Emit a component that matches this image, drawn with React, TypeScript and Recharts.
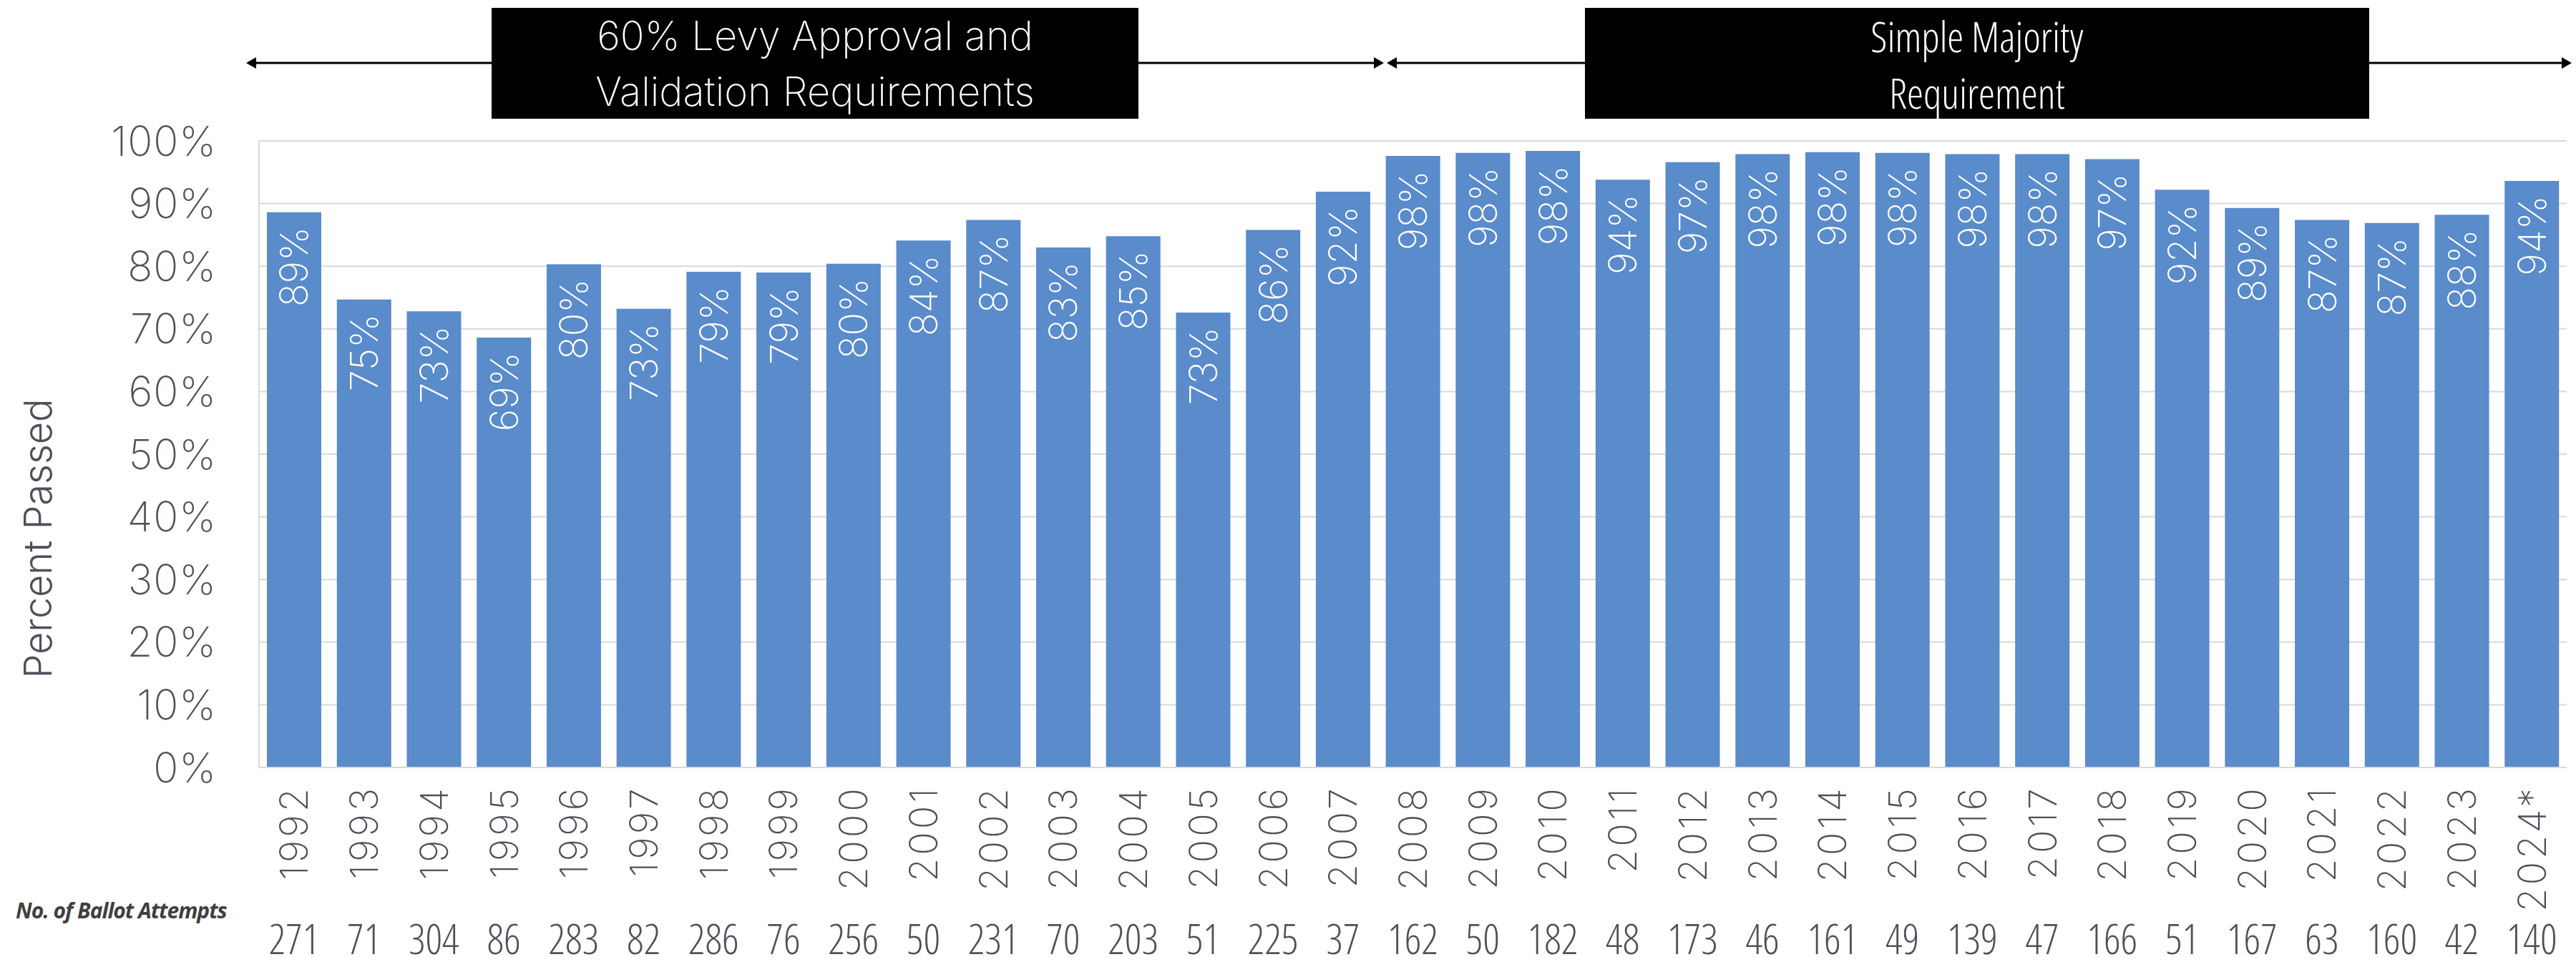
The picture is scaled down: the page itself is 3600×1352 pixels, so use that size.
import * as React from "react"
import { BarChart, Bar, XAxis, YAxis, CartesianGrid, LabelList } from "recharts"

// Levy ballot pass rate by year (percent) and attempts per year
const years = [
  "1992", "1993", "1994", "1995", "1996", "1997", "1998", "1999", "2000", "2001", "2002",
  "2003", "2004", "2005", "2006", "2007", "2008", "2009", "2010", "2011", "2012", "2013",
  "2014", "2015", "2016", "2017", "2018", "2019", "2020", "2021", "2022", "2023", "2024*",
]
const passRates = [
  88.6, 74.7, 72.8, 68.6, 80.3, 73.2, 79.1, 79.0, 80.4, 84.1, 87.4,
  83.0, 84.8, 72.6, 85.8, 91.9, 97.6, 98.1, 98.4, 93.8, 96.6, 97.9,
  98.2, 98.1, 97.9, 97.9, 97.1, 92.2, 89.3, 87.4, 86.9, 88.2, 93.6,
]
const ballotAttempts = [
  271, 71, 304, 86, 283, 82, 286, 76, 256, 50, 231,
  70, 203, 51, 225, 37, 162, 50, 182, 48, 173, 46,
  161, 49, 139, 47, 166, 51, 167, 63, 160, 42, 140,
]
const yTicks = [0, 10, 20, 30, 40, 50, 60, 70, 80, 90, 100]

const BAR = "#5A8BCA"
const GRID = "#D9D9D9"
const INK = "#4D5159"
const THIN = "Inter, 'Open Sans', sans-serif"
const COND = "'Open Sans', sans-serif"

function YearTick(props: any) {
  const { x, y, payload } = props
  const i = years.indexOf(payload.value)
  return (
    <g>
      <text
        x={x}
        y={y + 25}
        transform={`rotate(-90, ${x}, ${y + 25})`}
        textAnchor="end"
        dominantBaseline="central"
        fill={INK}
        fontFamily={THIN}
        fontWeight={200}
        fontSize={54}
        letterSpacing={4}
      >
        {payload.value}
      </text>
      <text
        x={x}
        y={y + 261}
        textAnchor="middle"
        fill={INK}
        fontFamily={COND}
        fontWeight={300}
        fontSize={58}
        style={{ fontStretch: "75%" }}
      >
        {ballotAttempts[i]}
      </text>
    </g>
  )
}

function BarValue(props: any) {
  const { x, y, width, value } = props
  const cx = x + width / 2
  const ty = y + 20
  return (
    <text
      x={cx}
      y={ty}
      transform={`rotate(-90, ${cx}, ${ty})`}
      textAnchor="end"
      dominantBaseline="central"
      fill="#ffffff"
      fontFamily={THIN}
      fontWeight={200}
      fontSize={54}
    >
      {`${Math.round(value)}%`}
    </text>
  )
}

export default function App() {
  const data = years.map((year, i) => ({ year, rate: passRates[i] }))

  return (
    <div style={{ position: "absolute", left: 0, top: 0, width: 3600, height: 1352, background: "#fff" }}>
      <BarChart width={3600} height={1352} data={data} margin={{ top: 197, right: 13, bottom: 9, left: 0 }}>
        <CartesianGrid vertical={false} stroke={GRID} strokeWidth={2} />
        <XAxis
          dataKey="year"
          interval={0}
          height={270}
          tickSize={0}
          tickMargin={0}
          tickLine={false}
          axisLine={{ stroke: GRID, strokeWidth: 2 }}
          tick={<YearTick />}
        />
        <YAxis
          width={362}
          domain={[0, 100]}
          ticks={yTicks}
          interval={0}
          tickSize={0}
          tickMargin={59}
          tickLine={false}
          axisLine={{ stroke: GRID, strokeWidth: 2 }}
          tickFormatter={(v) => `${v}%`}
          tick={{ fill: INK, fontFamily: THIN, fontWeight: 200, fontSize: 58, letterSpacing: 1 }}
        />
        <Bar dataKey="rate" fill={BAR} barSize={76} isAnimationActive={false}>
          <LabelList dataKey="rate" content={<BarValue />} />
        </Bar>
      </BarChart>

      {/* banners, arrows and side labels */}
      <svg width={3600} height={1352} style={{ position: "absolute", left: 0, top: 0, pointerEvents: "none" }}>
        <line x1={352} y1={88} x2={1926} y2={88} stroke="#000" strokeWidth={3} />
        <polygon points="344,88 358,80 358,96" fill="#000" />
        <polygon points="1934,88 1920,80 1920,96" fill="#000" />
        <line x1={1946} y1={88} x2={3584} y2={88} stroke="#000" strokeWidth={3} />
        <polygon points="1938,88 1952,80 1952,96" fill="#000" />
        <polygon points="3594,88 3580,80 3580,96" fill="#000" />

        <rect x={687} y={11} width={904} height={155} fill="#000" />
        <text x={1139} y={50} textAnchor="middle" dominantBaseline="central" fill="#fff" fontFamily={THIN} fontWeight={200} fontSize={56}>
          60% Levy Approval and
        </text>
        <text x={1139} y={128} textAnchor="middle" dominantBaseline="central" fill="#fff" fontFamily={THIN} fontWeight={200} fontSize={56}>
          Validation Requirements
        </text>

        <rect x={2215} y={11} width={1096} height={155} fill="#000" />
        <text x={2763} y={50} textAnchor="middle" dominantBaseline="central" fill="#fff" fontFamily={COND} fontWeight={300} fontSize={58} style={{ fontStretch: "75%" }}>
          Simple Majority
        </text>
        <text x={2763} y={129} textAnchor="middle" dominantBaseline="central" fill="#fff" fontFamily={COND} fontWeight={300} fontSize={58} style={{ fontStretch: "75%" }}>
          Requirement
        </text>

        <text x={52} y={753} transform="rotate(-90, 52, 753)" textAnchor="middle" dominantBaseline="central" fill={INK} fontFamily={THIN} fontWeight={300} fontSize={54}>
          Percent Passed
        </text>
        <text x={22} y={1272} dominantBaseline="central" fill="#3F3F3F" fontFamily={COND} fontWeight={700} fontStyle="italic" fontSize={30} letterSpacing={-1}>
          No. of Ballot Attempts
        </text>
      </svg>
    </div>
  )
}
